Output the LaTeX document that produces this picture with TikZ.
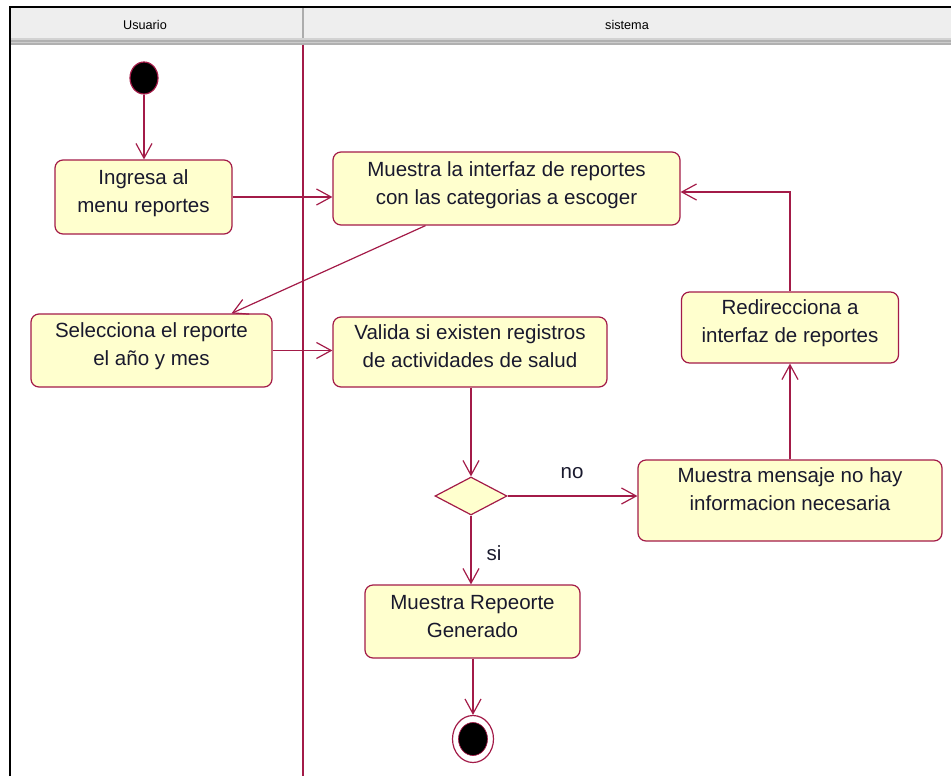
\documentclass[tikz,border=0pt]{standalone}
\usepackage{fontspec}
\setmainfont{Liberation Sans}
\usetikzlibrary{arrows.meta,shapes.geometric,calc}
\definecolor{umlline}{RGB}{163,27,72}
\definecolor{umlfill}{RGB}{255,255,206}
\definecolor{umltext}{RGB}{25,25,45}
\definecolor{headfill}{RGB}{238,238,238}

\begin{document}
\begin{tikzpicture}[x=0.75pt,y=-0.75pt,
  act/.style={draw=umlline, fill=umlfill, line width=0.9pt, rounded corners=6pt, inner sep=0pt},
  acttext/.style={anchor=north, inner sep=0pt, align=center, text=umltext, font=\fontsize{15.4}{21}\selectfont},
  flow/.style={draw=umlline, line width=0.9pt, -{Straight Barb[length=11pt,width=12pt]}},
  guard/.style={text=umltext, font=\fontsize{15.4}{21}\selectfont, inner sep=0pt},
  lanehead/.style={font=\fontsize{9.5}{11}\selectfont, text=black, inner sep=0pt},
]
\useasboundingbox (0,0) rectangle (951,776);

% swimlane frame and header
\fill[headfill] (10,8) rectangle (951,38);
\fill[gray!35] (10,37.5) rectangle (951,39.5);
\fill[gray!62] (10,39.5) rectangle (951,44.5);
\draw[gray!40, line width=0.6pt] (10,42) -- (951,42);
\draw[gray!65, line width=2pt] (303,8) -- (303,38);
\draw[black, line width=1.5pt] (9.5,776) -- (9.5,7) -- (951,7);
\draw[umlline, line width=0.9pt] (303,44.5) -- (303,776);
\node[lanehead] (lane-u) at (145,25) {Usuario};
\node[lanehead] (lane-s) at (627,25) {sistema};

% initial and final states
\node[ellipse, fill=black, draw=umlline, line width=0.9pt, minimum width=21pt, minimum height=24pt, inner sep=0pt] (ini) at (144,78) {};
\node[ellipse, draw=umlline, fill=white, line width=0.9pt, minimum width=30.75pt, minimum height=35.25pt, inner sep=0pt] (fin) at (473,739) {};
\node[ellipse, fill=black, draw=umlline, line width=0.5pt, minimum width=21.75pt, minimum height=24.75pt, inner sep=0pt] (fin-dot) at (fin.center) {};

% activities
\node[act, minimum width=132.75pt, minimum height=55.5pt] (ing) at (143.5,197) {};
\node[acttext] (ing-t) at ($(ing.north)+(0,10)$) {Ingresa al\\menu reportes};

\node[act, minimum width=260.25pt, minimum height=54.75pt] (mui) at (506.5,188.5) {};
\node[acttext] (mui-t) at ($(mui.north)+(0,10)$) {Muestra la interfaz de reportes\\con las categorias a escoger};

\node[act, minimum width=180.75pt, minimum height=54.75pt] (sel) at (151.5,350.5) {};
\node[acttext] (sel-t) at ($(sel.north)+(0,9)$) {Selecciona el reporte\\el año y mes};

\node[act, minimum width=205.5pt, minimum height=52.5pt] (val) at (470,352) {};
\node[acttext] (val-t) at ($(val.north)+(0,8)$) {Valida si existen registros\\de actividades de salud};

\node[act, minimum width=162.75pt, minimum height=53.25pt] (red) at (790,327.5) {};
\node[acttext] (red-t) at ($(red.north)+(0,8)$) {Redirecciona a\\interfaz de reportes};

\node[act, minimum width=228pt, minimum height=60.75pt] (msg) at (790,500.5) {};
\node[acttext] (msg-t) at ($(msg.north)+(0,8)$) {Muestra mensaje no hay\\informacion necesaria};

\node[act, minimum width=161.25pt, minimum height=54.75pt] (gen) at (472.5,621.5) {};
\node[acttext] (gen-t) at ($(gen.north)+(0,11)$) {Muestra Repeorte\\Generado};

% decision
\node[diamond, draw=umlline, fill=umlfill, line width=0.9pt, minimum width=54pt, minimum height=28.5pt, inner sep=0pt] (dia) at (471,496) {};
\node[guard] (g-no) at (572,473) {no};
\node[guard] (g-si) at (494,553) {si};

% control flows
\draw[flow] (ini.south) -- (ini.south |- ing.north);
\draw[flow] (ing.east) -- (ing.east -| mui.west);
\draw[flow] ($(mui.south)+(-81,0)$) -- ($(sel.north)+(80,0)$);
\draw[flow] (sel.east) -- (sel.east -| val.west);
\draw[flow] (dia.north |- val.south) -- (dia.north);
\draw[flow] (dia.east) -- (dia.east -| msg.west);
\draw[flow] (dia.south) -- (dia.south |- gen.north);
\draw[flow] (msg.north) -- (msg.north |- red.south);
\draw[flow] (red.north) |- ($(mui.east)+(0,3.5)$);
\draw[flow] (gen.south -| fin.north) -- (fin.north);
\end{tikzpicture}
\end{document}
